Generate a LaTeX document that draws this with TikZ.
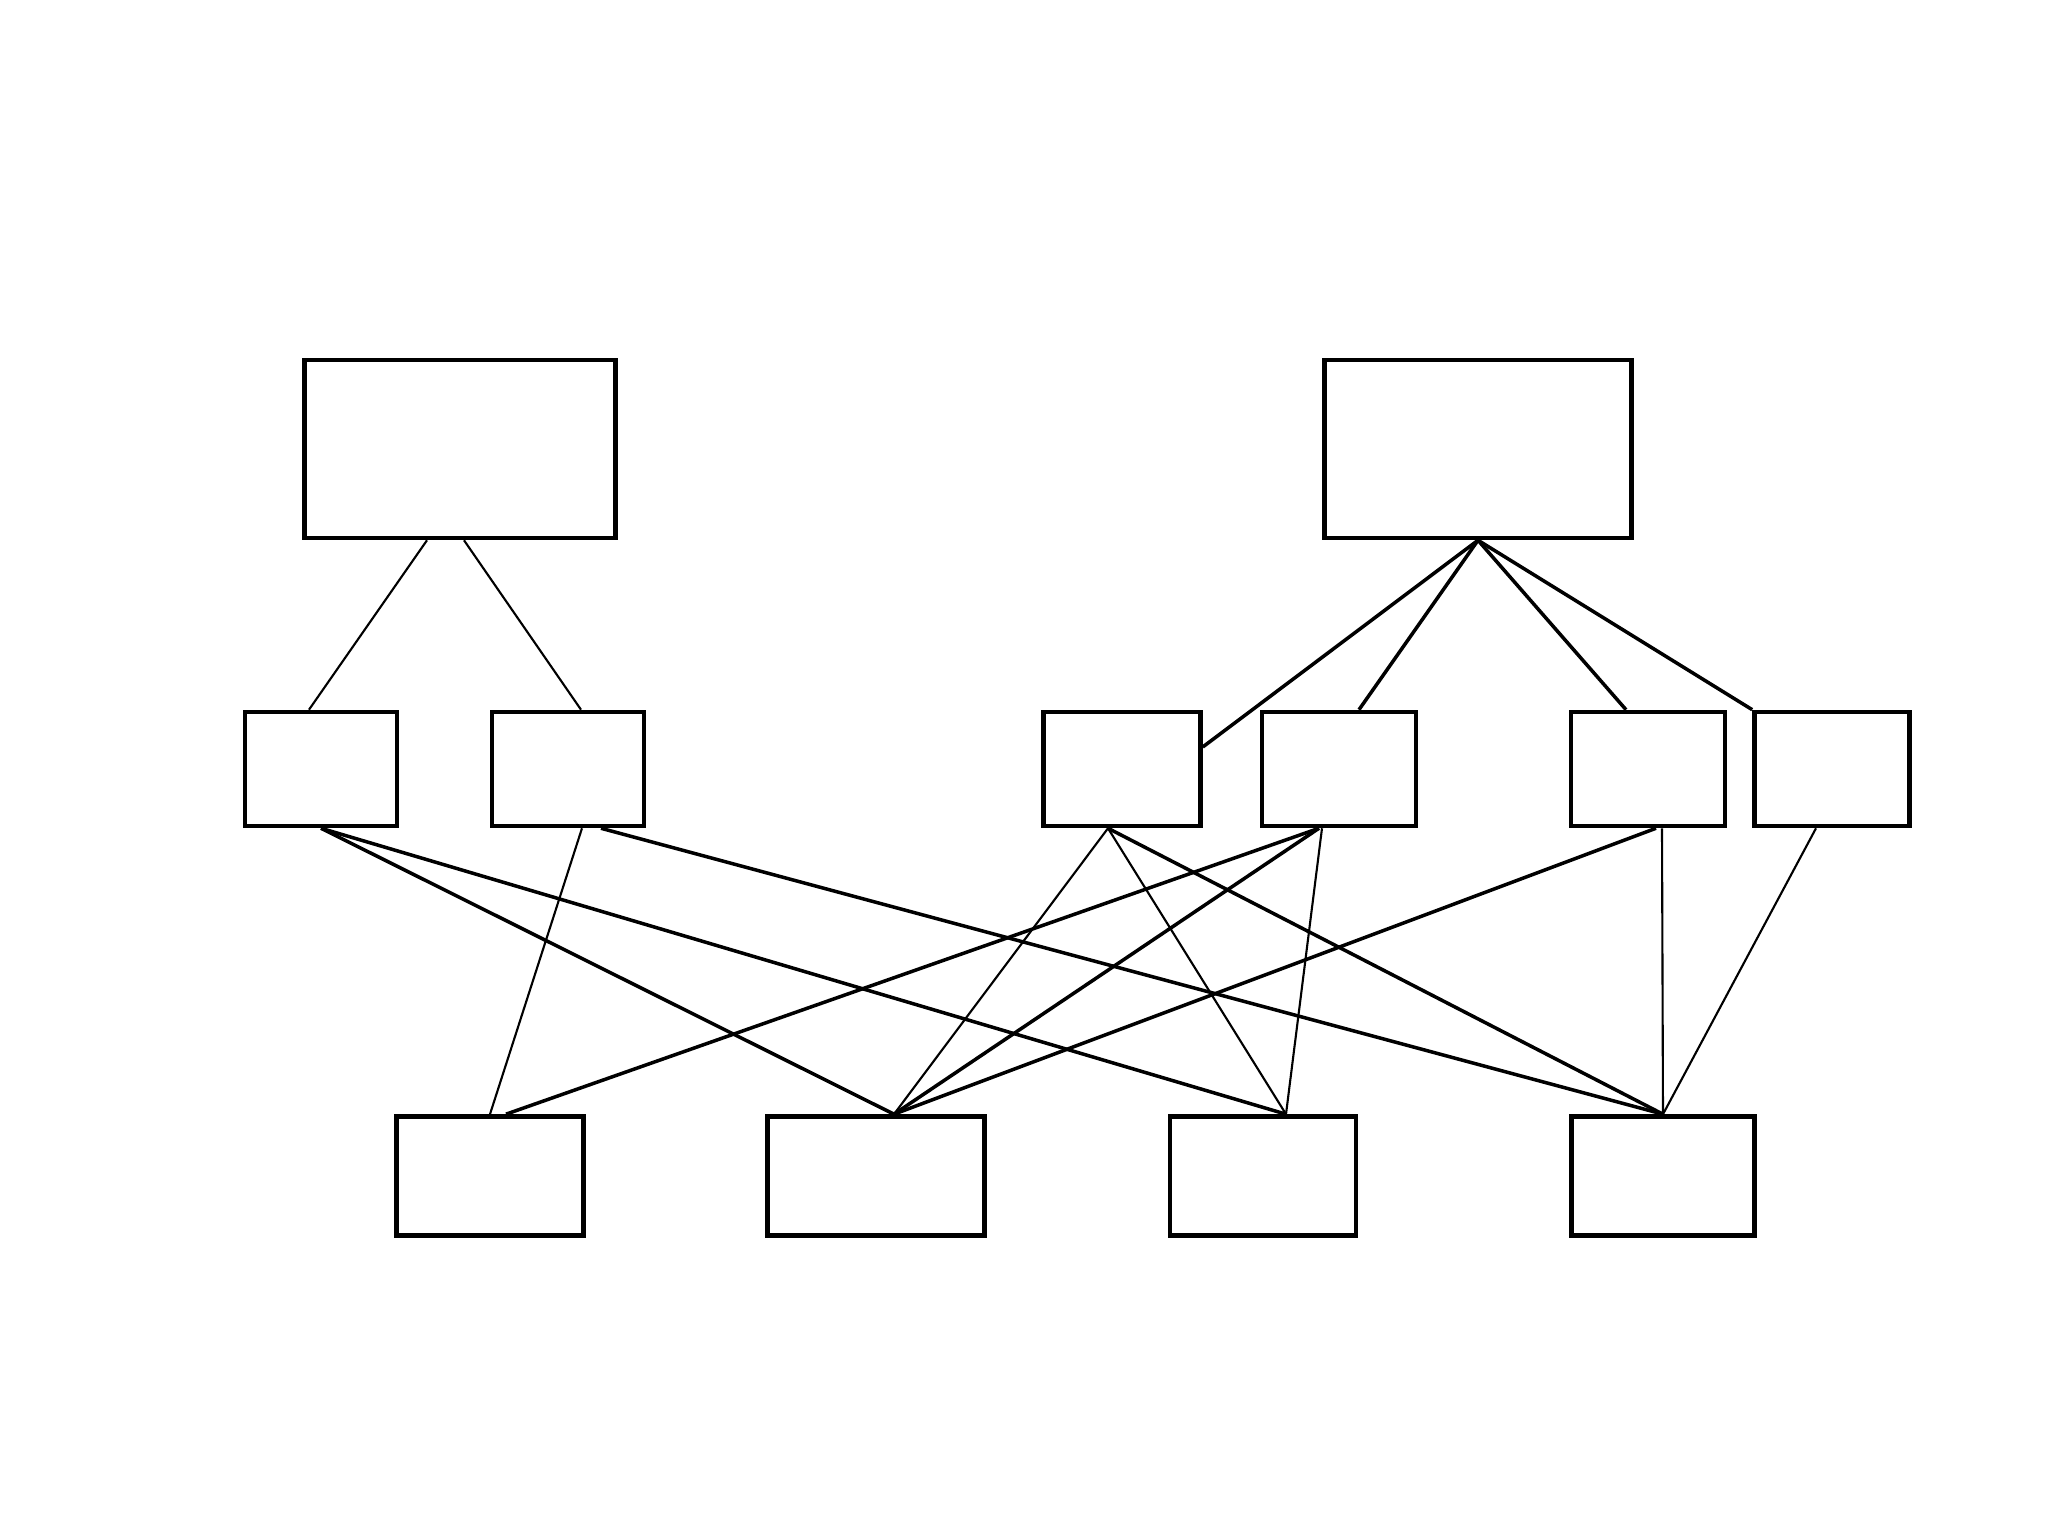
\documentclass[tikz,border=0pt]{standalone}
\usepackage{tikz}
\usetikzlibrary{positioning, calc}
\tikzset{
  box/.style ={rectangle, draw, line width=1.3pt, inner sep=0pt, fill=white},
  ln/.style  ={line width=1pt},
  lnt/.style ={line width=0.6pt},
}
\begin{document}
\begin{tikzpicture}
  \useasboundingbox[fill=white] (0,0) rectangle (20.48,15.36);
  % top row
  \node[box, minimum width=3.11cm, minimum height=1.78cm] (tl) at (4.60,10.87) {};
  \node[box, minimum width=3.07cm, minimum height=1.78cm] (tr) at (14.78,10.87) {};
  % middle row
  \node[box, minimum width=1.52cm, minimum height=1.14cm] (m1) at (3.21,7.67) {};
  \node[box, minimum width=1.52cm, minimum height=1.14cm] (m2) at (5.68,7.67) {};
  \node[box, minimum width=1.57cm, minimum height=1.14cm] (m3) at (11.22,7.67) {};
  \node[box, minimum width=1.54cm, minimum height=1.14cm] (m4) at (13.39,7.67) {};
  \node[box, minimum width=1.54cm, minimum height=1.14cm] (m5) at (16.48,7.67) {};
  \node[box, minimum width=1.55cm, minimum height=1.14cm] (m6) at (18.32,7.67) {};
  % bottom row
  \node[box, minimum width=1.87cm, minimum height=1.19cm] (b1) at (4.90,3.60) {};
  \node[box, minimum width=2.17cm, minimum height=1.19cm] (b2) at (8.76,3.60) {};
  \node[box, minimum width=1.86cm, minimum height=1.19cm] (b3) at (12.63,3.60) {};
  \node[box, minimum width=1.83cm, minimum height=1.19cm] (b4) at (16.63,3.60) {};
  % top to middle
  \draw[lnt] ([xshift=-0.33cm]tl.south) -- ([xshift=-0.12cm]m1.north);
  \draw[lnt] ([xshift=0.04cm]tl.south) -- ([xshift=0.13cm]m2.north);
  \draw[ln] (tr.south) -- ([yshift=0.22cm]m3.east);
  \draw[ln] (tr.south) -- ([xshift=0.20cm]m4.north);
  \draw[ln] (tr.south) -- ([xshift=-0.22cm]m5.north);
  \draw[ln] (tr.south) -- (m6.north west);
  % middle to bottom
  \draw[ln] (m1.south) -- ([xshift=0.18cm]b2.north);
  \draw[ln] (m1.south) -- ([xshift=0.23cm]b3.north);
  \draw[lnt] ([xshift=0.14cm]m2.south) -- (b1.north);
  \draw[ln] ([xshift=0.33cm]m2.south) -- (b4.north);
  \draw[lnt] ([xshift=-0.14cm]m3.south) -- ([xshift=0.18cm]b2.north);
  \draw[lnt] ([xshift=-0.14cm]m3.south) -- ([xshift=0.23cm]b3.north);
  \draw[ln] ([xshift=-0.14cm]m3.south) -- (b4.north);
  \draw[ln] ([xshift=-0.20cm]m4.south) -- ([xshift=0.16cm]b1.north);
  \draw[ln] ([xshift=-0.20cm]m4.south) -- ([xshift=0.18cm]b2.north);
  \draw[lnt] ([xshift=-0.17cm]m4.south) -- ([xshift=0.23cm]b3.north);
  \draw[ln] ([xshift=0.08cm]m5.south) -- ([xshift=0.18cm]b2.north);
  \draw[lnt] ([xshift=0.14cm]m5.south) -- (b4.north);
  \draw[lnt] ([xshift=-0.16cm]m6.south) -- (b4.north);
\end{tikzpicture}
\end{document}
